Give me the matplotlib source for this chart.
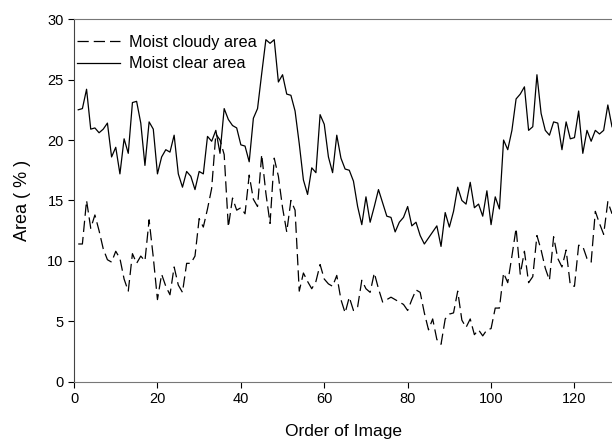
import numpy as np
import matplotlib
matplotlib.use("Agg")
import matplotlib.pyplot as plt

plt.rcParams['font.family'] = ['Liberation Sans', 'DejaVu Sans']

# Order of image 1..129
order = np.arange(1, 130)

# Moist clear area (%) - solid line
clear_area = [
    22.5, 22.6, 24.2, 20.9, 21.0, 20.6, 20.9, 21.4, 18.6, 19.4,
    17.2, 20.1, 18.9, 23.1, 23.2, 21.4, 17.9, 21.5, 20.9, 17.2,
    18.6, 19.2, 19.0, 20.4, 17.2, 16.1, 17.4, 17.0, 15.9, 17.4,
    17.2, 20.3, 19.9, 20.8, 18.9, 22.6, 21.7, 21.2, 21.0, 19.6,
    19.5, 18.2, 21.8, 22.6, 25.5, 28.3, 28.0, 28.3, 24.8, 25.4,
    23.8, 23.7, 22.4, 19.7, 16.7, 15.5, 17.7, 17.3, 22.1, 21.3,
    18.6, 17.3, 20.4, 18.5, 17.6, 17.5, 16.6, 14.5, 13.0, 15.3,
    13.2, 14.5, 15.9, 14.8, 13.7, 13.6, 12.4, 13.2, 13.6, 14.5,
    12.9, 13.2, 12.1, 11.4, 11.9, 12.4, 12.9, 11.2, 14.0, 12.8,
    14.1, 16.1, 15.0, 14.7, 16.5, 14.4, 14.7, 13.7, 15.8, 13.0,
    15.3, 14.3, 20.0, 19.2, 20.8, 23.4, 23.8, 24.4, 20.8, 21.1,
    25.4, 22.2, 20.8, 20.4, 21.5, 21.4, 19.2, 21.5, 20.1, 20.2,
    22.4, 18.9, 20.8, 19.9, 20.8, 20.5, 20.8, 22.9, 21.1,
]

# Moist cloudy area (%) - dashed line
cloudy_area = [
    11.4, 11.4, 15.0, 12.7, 13.8, 12.5, 11.0, 10.1, 9.9, 10.8,
    10.2, 8.5, 7.5, 10.6, 9.8, 10.4, 10.0, 13.4, 10.3, 6.8,
    8.9, 7.9, 7.2, 9.5, 8.0, 7.4, 9.8, 9.8, 10.4, 13.5,
    12.8, 14.3, 16.0, 20.5, 20.0, 18.8, 12.8, 15.2, 14.2, 14.4,
    13.9, 17.1, 15.1, 14.5, 18.8, 15.6, 13.1, 18.5, 17.0, 14.4,
    12.4, 15.0, 14.2, 7.5, 9.0, 8.3, 7.7, 8.3, 9.7, 8.5,
    8.1, 7.9, 8.8, 6.8, 5.7, 7.0, 5.9, 6.2, 8.4, 7.7,
    7.4, 9.0, 7.7, 6.6, 6.8, 7.0, 6.8, 6.6, 6.4, 5.9,
    6.8, 7.6, 7.4, 5.7, 4.3, 5.2, 3.5, 3.1, 5.2, 5.6,
    5.7, 7.5, 5.1, 4.5, 5.2, 3.9, 4.3, 3.8, 4.3, 4.4,
    6.1, 6.1, 9.0, 8.2, 10.4, 12.7, 8.9, 10.8, 8.2, 8.7,
    12.1, 10.9, 9.4, 8.4, 12.0, 10.2, 9.5, 10.9, 8.0, 7.9,
    11.3, 11.2, 10.2, 9.9, 14.1, 13.1, 12.2, 14.9, 13.9,
]

fig = plt.figure(figsize=(6.12, 4.45), dpi=100)
ax = fig.add_axes([0.121, 0.142, 0.879, 0.815])

ax.plot(order, cloudy_area, color='black', lw=0.9, dashes=(9, 4),
        label='Moist cloudy area')
ax.plot(order, clear_area, color='black', lw=0.9, label='Moist clear area')

ax.set_xlim(0, 129)
ax.set_ylim(0, 30)
ax.set_xticks(np.arange(0, 121, 20))
ax.set_yticks(np.arange(0, 31, 5))
ax.tick_params(direction='out', length=4, width=0.8, labelsize=10.5)

ax.spines['right'].set_visible(False)
ax.spines['top'].set_color('#777777')
ax.spines['bottom'].set_color('#777777')
ax.spines['left'].set_color('#444444')

ax.set_xlabel('Order of Image', fontsize=12.5, labelpad=13)
ax.set_ylabel('Area ( % )', fontsize=13, labelpad=12)

ax.legend(loc='upper left', bbox_to_anchor=(-0.006, 0.975), frameon=False,
          fontsize=11.7, handlelength=2.6, handletextpad=0.6,
          borderaxespad=0, borderpad=0.4, labelspacing=0.4)

fig.savefig('out.png', dpi=100)
